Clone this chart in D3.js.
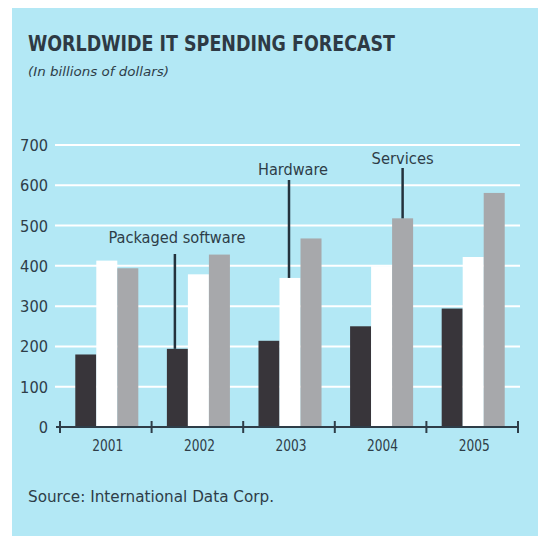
<!DOCTYPE html>
<html><head><meta charset="utf-8">
<script src="https://cdn.jsdelivr.net/npm/d3@7"></script>
<style>
body{margin:0;background:#fff;}
text{font-family:"DejaVu Sans Condensed","Liberation Sans Narrow",sans-serif;fill:#2e3d48;}
</style></head>
<body><svg id="c" width="538" height="536"></svg>
<script>
const years = ["2001","2002","2003","2004","2005"];
const seriesNames = ["Packaged software","Hardware","Services"];
const software = [180,194,214,250,294];
const hardware = [413,379,370,399,422];
const services = [394,428,468,518,581];
const yTicks = [0,100,200,300,400,500,600,700];
const colors = ["#38353a","#ffffff","#a7a8ab"];

const svg = d3.select("#c");
svg.append("rect").attr("x",12).attr("y",8).attr("width",526).attr("height",528).attr("fill","#b3e8f5");

svg.append("text").attr("x",28).attr("y",51).attr("font-size",22).attr("font-weight","bold")
  .attr("textLength",367).attr("lengthAdjust","spacingAndGlyphs")
  .style("fill","#2e3a44").text("WORLDWIDE IT SPENDING FORECAST");
svg.append("text").attr("x",28).attr("y",76).attr("font-size",13).attr("font-style","italic")
  .attr("textLength",141).attr("lengthAdjust","spacingAndGlyphs")
  .text("(In billions of dollars)");

const x0 = 60, x1 = 518;
const y = d3.scaleLinear().domain([0,700]).range([427,145]);
const xb = d3.scaleBand().domain(years).range([x0,x1]).paddingInner(0).paddingOuter(0);
const xs = d3.scaleBand().domain(seriesNames).range([0,xb.bandwidth()]).paddingOuter(0.68).paddingInner(0);

// gridlines
svg.append("g").selectAll("line").data(yTicks.filter(d=>d>0)).join("line")
  .attr("x1",55).attr("x2",520).attr("y1",d=>y(d)).attr("y2",d=>y(d))
  .attr("stroke","#ffffff").attr("stroke-width",2);

const data = years.map((yr,i)=>({yr, vals:[software[i],hardware[i],services[i]]}));
const g = svg.append("g");
data.forEach(d=>{
  g.selectAll(null).data(d.vals.map((v,k)=>({k,v}))).join("rect")
    .attr("x",e=>xb(d.yr)+xs(seriesNames[e.k])+1)
    .attr("width",xs.bandwidth())
    .attr("y",e=>y(e.v)).attr("height",e=>y(0)-y(e.v))
    .attr("fill",e=>colors[e.k]);
});

// y labels
svg.append("g").selectAll("text").data(yTicks).join("text")
  .attr("x",48).attr("y",d=>y(d)+6).attr("text-anchor","end").attr("font-size",16)
  .attr("textLength",d=>String(d).length*9.3).attr("lengthAdjust","spacingAndGlyphs")
  .text(d=>d);

// x axis
const xa = svg.append("g").attr("transform",`translate(0,${y(0)})`)
  .call(d3.axisBottom(xb).tickSize(0).tickPadding(13).tickFormat(d=>d));
xa.select(".domain").attr("stroke","#2e3d48").attr("stroke-width",2).attr("d",`M${x0-4},0H${x1}`);
xa.selectAll("text").attr("font-size",16).attr("font-family","DejaVu Sans Condensed, sans-serif")
  .attr("fill","#2e3d48").attr("dx",2).attr("textLength",31).attr("lengthAdjust","spacingAndGlyphs");
svg.append("g").selectAll("line").data(years.concat(["end"])).join("line")
  .attr("x1",d=>d==="end"?x1:xb(d)).attr("x2",d=>d==="end"?x1:xb(d))
  .attr("y1",y(0)-6).attr("y2",y(0)+6).attr("stroke","#2e3d48").attr("stroke-width",2);

// callouts
function cx(yr,k){return xb(yr)+xs(seriesNames[k])+1+xs.bandwidth()/2;}
const callouts = [
  {name:"Packaged software", yr:"2002", k:0, ty:243, ly1:254, tdx:2, ldx:-2.5, w:137},
  {name:"Hardware", yr:"2003", k:1, ty:175, ly1:180, tdx:4, ldx:-1, w:70},
  {name:"Services", yr:"2004", k:2, ty:164, ly1:168, tdx:0, ldx:0, w:62}
];
callouts.forEach(c=>{
  const v = [software,hardware,services][c.k][years.indexOf(c.yr)];
  const lx = cx(c.yr,c.k)+c.ldx;
  svg.append("line").attr("x1",lx).attr("x2",lx).attr("y1",c.ly1).attr("y2",y(v))
    .attr("stroke","#23323d").attr("stroke-width",2.5);
  svg.append("text").attr("x",lx+c.tdx).attr("y",c.ty).attr("text-anchor","middle").attr("font-size",16)
    .attr("textLength",c.w).attr("lengthAdjust","spacingAndGlyphs")
    .text(c.name);
});

svg.append("text").attr("x",28).attr("y",502).attr("font-size",15)
  .attr("textLength",246).attr("lengthAdjust","spacingAndGlyphs")
  .text("Source: International Data Corp.");
</script></body></html>
